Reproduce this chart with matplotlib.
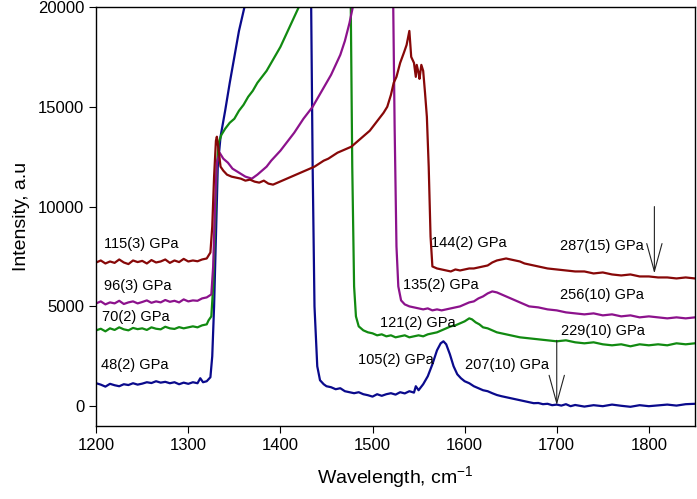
import numpy as np
import matplotlib.pyplot as plt

plt.rcParams['font.family'] = ['Liberation Sans', 'DejaVu Sans']
plt.rcParams['mathtext.fontset'] = 'custom'
plt.rcParams['mathtext.rm'] = 'Liberation Sans'

# 48(2) GPa spectrum (navy)
x_48 = [1200, 1205, 1210, 1215, 1220, 1225, 1230, 1235, 1240, 1245, 1250, 1255, 1260, 1265,
        1270, 1275, 1280, 1285, 1290, 1295, 1300, 1305, 1310, 1313, 1316, 1320, 1324, 1326,
        1328, 1330, 1332, 1335, 1340, 1345, 1350, 1355, 1361, 1370, 1400, 1430, 1433, 1435,
        1437, 1440, 1443, 1447, 1450, 1455, 1460, 1465, 1470, 1475, 1480, 1485, 1490, 1495,
        1500, 1505, 1510, 1515, 1520, 1525, 1530, 1535, 1540, 1545, 1547, 1550, 1555, 1560,
        1565, 1570, 1574, 1577, 1580, 1584, 1588, 1592, 1596, 1600, 1605, 1610, 1615, 1620,
        1625, 1630, 1635, 1640, 1645, 1650, 1655, 1660, 1665, 1670, 1675, 1680, 1685, 1690,
        1695, 1700, 1705, 1710, 1715, 1720, 1730, 1740, 1750, 1760, 1770, 1780, 1790, 1800,
        1810, 1820, 1830, 1840, 1850]
y_48 = [1150, 1080, 980, 1120, 1050, 1000, 1100, 1060, 1150, 1080, 1130, 1200, 1160, 1250,
        1180, 1220, 1150, 1200, 1100, 1180, 1120, 1200, 1150, 1400, 1200, 1250, 1450, 2500,
        5000, 8500, 12000, 13500, 14800, 16200, 17500, 18800, 20000, 22500, 30000, 30000, 22000, 12000,
        5000, 2000, 1300, 1100, 1000, 950, 850, 900, 750, 700, 650, 700, 600, 550,
        480, 600, 520, 600, 650, 580, 700, 640, 750, 680, 1000, 800, 1100, 1500,
        2100, 2800, 3150, 3250, 3100, 2600, 2000, 1600, 1400, 1250, 1150, 1000, 900, 800,
        750, 650, 560, 500, 450, 400, 350, 300, 250, 200, 150, 160, 100, 120,
        50, 80, 30, 100, 0, 60, -20, 50, 0, 80, 20, -30, 50, 0,
        40, 80, 30, 100, 120]

# 70(2) GPa spectrum (green)
x_70 = [1200, 1205, 1210, 1215, 1220, 1225, 1230, 1235, 1240, 1245, 1250, 1255, 1260, 1265,
        1270, 1275, 1280, 1285, 1290, 1295, 1300, 1305, 1310, 1315, 1320, 1322, 1325, 1327,
        1329, 1331, 1333, 1336, 1340, 1345, 1350, 1355, 1360, 1365, 1370, 1375, 1380, 1385,
        1390, 1395, 1400, 1405, 1410, 1415, 1420, 1430, 1460, 1474, 1476, 1478, 1480, 1482,
        1485, 1490, 1495, 1500, 1505, 1510, 1515, 1520, 1525, 1530, 1535, 1540, 1545, 1550,
        1555, 1560, 1565, 1570, 1575, 1580, 1585, 1590, 1595, 1600, 1605, 1608, 1612, 1616,
        1620, 1625, 1630, 1635, 1640, 1650, 1660, 1670, 1680, 1690, 1700, 1710, 1720, 1730,
        1740, 1750, 1760, 1770, 1780, 1790, 1800, 1810, 1820, 1830, 1840, 1850]
y_70 = [3800, 3880, 3750, 3900, 3820, 3950, 3850, 3800, 3920, 3860, 3900, 3820, 3950, 3880,
        3850, 3980, 3900, 3870, 3960, 3900, 3950, 4000, 3950, 4050, 4100, 4300, 4500, 6000,
        9000, 12000, 13200, 13600, 13900, 14200, 14400, 14800, 15100, 15500, 15800, 16200, 16500, 16800,
        17200, 17600, 18000, 18500, 19000, 19500, 20000, 21000, 30000, 30000, 22000, 12000, 6000, 4500,
        4000, 3800, 3700, 3650, 3550, 3600, 3500, 3550, 3450, 3500, 3550, 3450, 3500, 3550,
        3500, 3600, 3650, 3700, 3800, 3900, 4000, 4050, 4150, 4250, 4400, 4350, 4200, 4100,
        3950, 3900, 3800, 3700, 3650, 3550, 3450, 3400, 3350, 3300, 3250, 3300, 3200, 3150,
        3200, 3100, 3050, 3100, 3000, 3100, 3050, 3100, 3050, 3150, 3100, 3150]

# 96(3) GPa spectrum (purple)
x_96 = [1200, 1205, 1210, 1215, 1220, 1225, 1230, 1235, 1240, 1245, 1250, 1255, 1260, 1265,
        1270, 1275, 1280, 1285, 1290, 1295, 1300, 1305, 1310, 1315, 1320, 1325, 1327, 1329,
        1331, 1334, 1338, 1343, 1348, 1355, 1362, 1369, 1375, 1380, 1385, 1390, 1395, 1400,
        1405, 1410, 1415, 1420, 1425, 1430, 1435, 1440, 1445, 1450, 1455, 1460, 1465, 1470,
        1475, 1480, 1500, 1520, 1522, 1524, 1526, 1528, 1531, 1535, 1540, 1545, 1550, 1555,
        1560, 1565, 1570, 1575, 1580, 1585, 1590, 1595, 1600, 1605, 1610, 1615, 1620, 1625,
        1630, 1635, 1640, 1645, 1650, 1655, 1660, 1665, 1670, 1680, 1690, 1700, 1710, 1720,
        1730, 1740, 1750, 1760, 1770, 1780, 1790, 1800, 1810, 1820, 1830, 1840, 1850]
y_96 = [5150, 5250, 5100, 5200, 5150, 5280, 5120, 5200, 5250, 5150, 5220, 5300, 5180, 5250,
        5200, 5320, 5230, 5280, 5200, 5350, 5250, 5300, 5280, 5400, 5450, 5600, 7000, 10000,
        12200, 12700, 12400, 12200, 11900, 11700, 11500, 11400, 11600, 11800, 12000, 12300, 12550, 12800,
        13100, 13400, 13700, 14050, 14400, 14700, 15000, 15400, 15800, 16200, 16600, 17100, 17600, 18300,
        19200, 20300, 30000, 30000, 22000, 14000, 8000, 6000, 5300, 5100, 5000, 4950, 4900, 4850,
        4900, 4800, 4850, 4800, 4850, 4900, 4950, 5000, 5100, 5200, 5250, 5400, 5500, 5650,
        5750, 5700, 5600, 5500, 5400, 5300, 5200, 5100, 5000, 4950, 4850, 4800, 4700, 4650,
        4600, 4650, 4550, 4600, 4500, 4550, 4450, 4500, 4450, 4400, 4450, 4400, 4450]

# 115(3) GPa spectrum (dark red)
x_115 = [1200, 1205, 1210, 1215, 1220, 1225, 1230, 1235, 1240, 1245, 1250, 1255, 1260, 1265,
         1270, 1275, 1280, 1285, 1290, 1295, 1300, 1305, 1310, 1315, 1320, 1324, 1326, 1328,
         1330, 1331, 1333, 1335, 1338, 1342, 1347, 1352, 1357, 1362, 1367, 1372, 1377, 1382,
         1387, 1392, 1397, 1402, 1407, 1412, 1417, 1422, 1427, 1432, 1437, 1442, 1447, 1452,
         1457, 1462, 1467, 1472, 1477, 1482, 1487, 1492, 1497, 1502, 1507, 1512, 1516, 1520,
         1523, 1526, 1530, 1534, 1537, 1540, 1542, 1545, 1547, 1548, 1550, 1551, 1553, 1555,
         1557, 1559, 1561, 1563, 1565, 1570, 1575, 1580, 1585, 1590, 1595, 1600, 1605, 1610,
         1615, 1620, 1625, 1630, 1635, 1640, 1645, 1650, 1655, 1660, 1665, 1670, 1680, 1690,
         1700, 1710, 1720, 1730, 1740, 1750, 1760, 1770, 1780, 1790, 1800, 1810, 1820, 1830,
         1840, 1850]
y_115 = [7200, 7300, 7150, 7250, 7180, 7350, 7200, 7120, 7300, 7220, 7280, 7150, 7320, 7200,
         7250, 7350, 7180, 7300, 7220, 7380, 7250, 7300, 7260, 7350, 7400, 7700, 9000, 11500,
         13300, 13500, 12800, 12000, 11800, 11600, 11500, 11450, 11400, 11300, 11350, 11250, 11200, 11300,
         11150, 11100, 11200, 11300, 11400, 11500, 11600, 11700, 11800, 11900, 12000, 12150, 12300, 12400,
         12550, 12700, 12800, 12900, 13000, 13200, 13400, 13600, 13800, 14100, 14400, 14700, 15000, 15600,
         16200, 16500, 17200, 17700, 18100, 18800, 17500, 17200, 16500, 17100, 16700, 16400, 17100, 16800,
         15700, 14500, 12000, 8500, 7000, 6900, 6850, 6800, 6750, 6850, 6800, 6850, 6900, 6900,
         6950, 7000, 7050, 7200, 7300, 7350, 7400, 7350, 7300, 7250, 7150, 7100, 7000, 6900,
         6850, 6800, 6750, 6750, 6650, 6700, 6600, 6550, 6600, 6500, 6500, 6450, 6450, 6400,
         6450, 6400]

series = [(x_48, y_48, '#0a0a8c'), (x_70, y_70, '#118a11'),
          (x_96, y_96, '#8c128c'), (x_115, y_115, '#870808')]

# pressure labels: (text, x, y)
labels = [('115(3) GPa', 1208, 8120), ('96(3) GPa', 1208, 6020),
          ('70(2) GPa', 1206, 4450), ('48(2) GPa', 1205, 2060),
          ('144(2) GPa', 1564, 8160), ('287(15) GPa', 1704, 8020),
          ('135(2) GPa', 1533, 6070), ('256(10) GPa', 1703, 5570),
          ('121(2) GPa', 1508, 4180), ('229(10) GPa', 1705, 3780),
          ('105(2) GPa', 1484, 2300), ('207(10) GPa', 1600, 2060)]

# arrows: (x, y_start, y_end)
arrows = [(1700, 3300, 50), (1806, 10000, 6650)]


def main():
    fig = plt.figure(figsize=(6.97, 4.99), dpi=100)
    ax = fig.add_axes([0.138, 0.146, 0.859, 0.840])

    for xs, ys, c in series:
        ax.plot(xs, ys, color=c, lw=1.6)

    for txt, x, y in labels:
        ax.text(x, y, txt, fontsize=10.5, va='center', ha='left')

    for x, y0, y1 in arrows:
        ax.annotate('', xy=(x, y1), xytext=(x, y0),
                    arrowprops=dict(arrowstyle='->,head_length=2.0,head_width=0.55',
                                    color='#222222', lw=0.8, shrinkA=0, shrinkB=0))

    ax.set_xlim(1200, 1850)
    ax.set_ylim(-1000, 20000)
    ax.set_xticks([1200, 1300, 1400, 1500, 1600, 1700, 1800])
    ax.set_yticks([0, 5000, 10000, 15000, 20000])
    ax.tick_params(direction='out', length=5, labelsize=12, top=False, right=False)
    ax.set_xlabel('Wavelength, cm$^{-1}$', fontsize=14, labelpad=8)
    ax.set_ylabel('Intensity, a.u', fontsize=14, labelpad=6)
    for s in ax.spines.values():
        s.set_linewidth(1.0)

    fig.savefig('out.png', dpi=100)


if __name__ == '__main__':
    main()
